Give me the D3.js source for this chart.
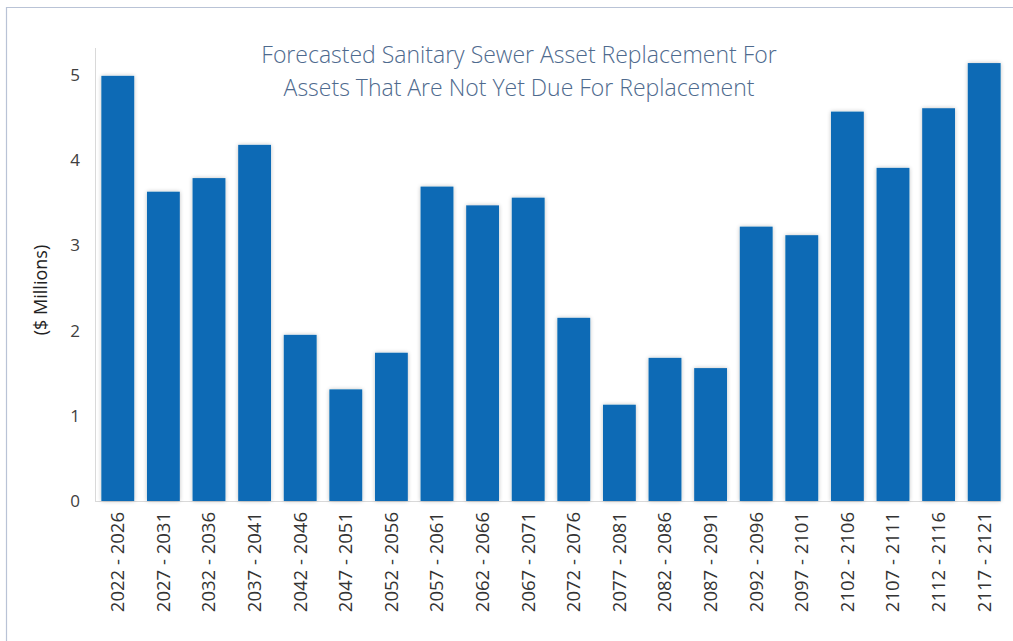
<!DOCTYPE html>
<html>
<head>
<meta charset="utf-8">
<script src="https://cdn.jsdelivr.net/npm/d3@7"></script>
<style>
  body { margin: 0; background: #fff; }
  svg { display: block; }
</style>
</head>
<body>
<div id="chart"></div>
<script>
// periods and forecast replacement values ($ millions)
const periods = ["2022 - 2026", "2027 - 2031", "2032 - 2036", "2037 - 2041", "2042 - 2046",
  "2047 - 2051", "2052 - 2056", "2057 - 2061", "2062 - 2066", "2067 - 2071",
  "2072 - 2076", "2077 - 2081", "2082 - 2086", "2087 - 2091", "2092 - 2096",
  "2097 - 2101", "2102 - 2106", "2107 - 2111", "2112 - 2116", "2117 - 2121"];
const values = [4.99, 3.63, 3.79, 4.18, 1.95, 1.31, 1.74, 3.69, 3.47, 3.56,
  2.15, 1.13, 1.68, 1.56, 3.22, 3.12, 4.57, 3.91, 4.61, 5.14];
const yTicks = [0, 1, 2, 3, 4, 5];
const titleLines = ["Forecasted Sanitary Sewer Asset Replacement For",
  "Assets That Are Not Yet Due For Replacement"];

const width = 1013, height = 641;
const margin = { top: 48, right: 6, bottom: 140, left: 95 };

const svg = d3.select("#chart").append("svg")
    .attr("width", width)
    .attr("height", height);

// outer frame (top and left edges only visible)
svg.append("path")
    .attr("d", `M6.5,${height} V7.5 H${width}`)
    .attr("fill", "none")
    .attr("stroke", "#b9c3d6")
    .attr("stroke-width", 1.2);

const defs = svg.append("defs");
const glow = defs.append("filter").attr("id", "glow")
    .attr("x", "-20%").attr("y", "-5%").attr("width", "140%").attr("height", "110%");
glow.append("feGaussianBlur").attr("in", "SourceAlpha").attr("stdDeviation", 2);
glow.append("feComponentTransfer").append("feFuncA").attr("type", "linear").attr("slope", 0.25);
const merge = glow.append("feMerge");
merge.append("feMergeNode");
merge.append("feMergeNode").attr("in", "SourceGraphic");

const x = d3.scaleBand()
    .domain(periods)
    .range([margin.left, 1007])
    .paddingInner(0.28)
    .paddingOuter(0.14);

const y = d3.scaleLinear()
    .domain([0, 5])
    .range([501, 75]);

// axis lines
svg.append("line")
    .attr("x1", margin.left + 0.5).attr("x2", margin.left + 0.5)
    .attr("y1", margin.top).attr("y2", y(0))
    .attr("stroke", "#d9d9d9");
svg.append("line")
    .attr("x1", margin.left).attr("x2", 1001)
    .attr("y1", y(0) + 0.5).attr("y2", y(0) + 0.5)
    .attr("stroke", "#d9d9d9");

// bars
svg.append("g")
    .selectAll("rect")
    .data(values)
    .join("rect")
    .attr("x", (d, i) => x(periods[i]))
    .attr("y", d => y(d))
    .attr("width", x.bandwidth())
    .attr("height", d => y(0) - y(d))
    .attr("fill", "#0b6bb5")
    .attr("filter", "url(#glow)");

// y axis
const yAxis = svg.append("g")
    .attr("transform", `translate(${margin.left},0)`)
    .call(d3.axisLeft(y).tickValues(yTicks).tickFormat(d3.format("d")).tickSize(0).tickPadding(15));
yAxis.select(".domain").remove();
yAxis.selectAll("text")
    .attr("font-family", "'Open Sans', sans-serif")
    .attr("font-size", 17)
    .attr("fill", "#404040");

// x axis labels
const xAxis = svg.append("g")
    .attr("transform", `translate(0,${y(0)})`)
    .call(d3.axisBottom(x).tickSize(0));
xAxis.select(".domain").remove();
xAxis.selectAll("text")
    .attr("font-family", "'Open Sans', sans-serif")
    .attr("font-size", 18.5)
    .attr("fill", "#333")
    .attr("text-anchor", "end")
    .attr("dy", "0.35em")
    .attr("transform", "translate(0,11) rotate(-90)")
    .attr("y", 0)
    .attr("x", 0);

// y axis title
svg.append("text")
    .attr("transform", "translate(47,290) rotate(-90)")
    .attr("text-anchor", "middle")
    .attr("font-family", "'Open Sans', sans-serif")
    .attr("font-size", 18)
    .attr("fill", "#222")
    .text("($ Millions)");

// chart title
svg.append("g")
    .selectAll("text")
    .data(titleLines)
    .join("text")
    .attr("x", 519)
    .attr("y", (d, i) => 63 + i * 33)
    .attr("text-anchor", "middle")
    .attr("font-family", "'Open Sans', sans-serif")
    .attr("font-weight", 300)
    .attr("font-size", 23)
    .attr("fill", "#4e6a8e")
    .text(d => d);
</script>
</body>
</html>
